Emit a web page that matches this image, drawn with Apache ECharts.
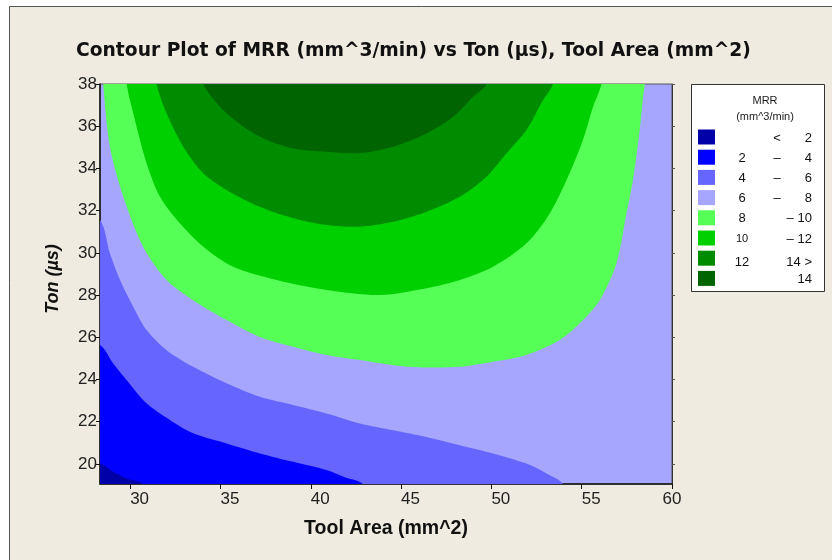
<!DOCTYPE html>
<html>
<head>
<meta charset="utf-8">
<script src="https://cdn.jsdelivr.net/npm/echarts@6/dist/echarts.min.js"></script>
<style>html,body{margin:0;padding:0;background:#ffffff}#chart{width:832px;height:560px}</style>
</head>
<body>
<div id="chart"></div>
<script>
// ---- axes ----
const xRange = [28.33, 60];
const yRange = [19.05, 38];
const xTicks = [30, 35, 40, 45, 50, 55, 60];
const yTicks = [20, 22, 24, 26, 28, 30, 32, 34, 36, 38];

// ---- legend ----
const legendTitle = ['MRR', '(mm^3/min)'];
const bandColors = ['#0000A8', '#0000FF', '#6666FF', '#A6A6FF', '#55FF55', '#00D000', '#008C00', '#006400'];
const legendLow  = ['', '2', '4', '6', '8', '10', '12', ''];
const legendSep  = ['<', '–', '–', '–', '–', '–', '', ''];
const legendHigh = ['2', '4', '6', '8', '10', '12', '14 >', '14'];

// ---- contour lines [Tool Area, Ton] ----
const contour2 = [[28.33,20.02],[29.06,19.63],[29.81,19.31],[30.72,19.04]];
const contour4 = [[28.33,25.63],[29.06,24.76],[29.81,23.97],[30.91,22.87],[32.20,22.08],[33.49,21.45],[35.34,20.97],[37.18,20.50],[39.03,20.10],[40.87,19.71],[41.89,19.37],[42.88,19.04]];
const contour6 = [[28.33,31.55],[28.88,29.98],[29.44,28.71],[30.17,27.45],[30.91,26.34],[32.02,25.39],[33.49,24.60],[35.34,23.82],[37.18,23.18],[39.03,22.79],[40.87,22.39],[42.72,21.92],[44.56,21.60],[46.41,21.28],[48.25,20.89],[50.09,20.50],[51.94,20.02],[53.05,19.55],[53.97,19.04]];
const contour8 = [[28.51,38],[28.88,35.03],[29.62,32.66],[30.72,30.29],[32.02,28.71],[33.48,27.76],[35.34,26.82],[37.18,26.02],[39.03,25.55],[40.87,25.16],[42.72,24.92],[44.56,24.68],[46.41,24.57],[48.25,24.60],[50.09,24.84],[51.94,25.16],[53.79,25.87],[54.89,26.66],[56.00,27.76],[56.92,29.50],[57.48,31.87],[57.84,33.45],[58.21,35.82],[58.40,37.40],[58.49,38]];
const contour10 = [[29.81,38],[30.17,36.61],[30.91,34.24],[31.65,32.66],[32.76,31.40],[34.05,30.29],[35.71,29.34],[38.11,28.71],[40.87,28.24],[43.82,28.00],[46.41,28.32],[48.25,28.71],[50.09,29.34],[51.94,30.45],[53.23,31.87],[54.16,33.45],[55.07,35.35],[55.63,36.92],[56.09,38]];
const contour12 = [[31.47,38],[32.02,36.61],[32.94,35.03],[34.05,33.77],[35.34,32.98],[37.18,32.18],[39.03,31.64],[40.87,31.32],[42.72,31.24],[44.56,31.47],[46.41,31.95],[48.25,32.66],[49.73,33.61],[50.84,34.72],[51.94,35.82],[52.86,37.24],[53.41,38]];
const contour14 = [[34.05,38],[35.34,36.61],[37.18,35.50],[39.03,34.95],[40.87,34.79],[42.72,34.73],[44.56,35.03],[46.41,35.66],[47.88,36.45],[48.99,37.40],[49.73,38]];

// regions: 'low' = below the line (towards bottom-left), 'high' = above the line (towards top)
const bands = [
  { line: contour6,  side: 'low',  color: bandColors[2] },
  { line: contour4,  side: 'low',  color: bandColors[1] },
  { line: contour2,  side: 'low',  color: bandColors[0] },
  { line: contour8,  side: 'high', color: bandColors[4] },
  { line: contour10, side: 'high', color: bandColors[5] },
  { line: contour12, side: 'high', color: bandColors[6] },
  { line: contour14, side: 'high', color: bandColors[7] }
];

function closeRegion(b) {
  const pts = b.line.slice();
  const first = pts[0], last = pts[pts.length - 1];
  if (b.side === 'low') {
    pts.push([last[0], yRange[0] - 1], [xRange[0] - 1, yRange[0] - 1], [xRange[0] - 1, first[1]]);
  } else {
    pts.push([last[0], yRange[1] + 1], [first[0], yRange[1] + 1]);
  }
  return pts;
}

const FONT = '"Liberation Sans", Arial, sans-serif';
const TITLE_FONT = '"DejaVu Sans", Verdana, sans-serif';

// ---- legend graphics ----
const legendX = 691, legendY = 84, legendW = 133, legendH = 207;
const rowTop = 129.5, rowPitch = 20.2;
const legendGraphics = [
  { type: 'rect', shape: { x: legendX + 0.5, y: legendY + 0.5, width: legendW, height: legendH },
    style: { fill: '#ffffff', stroke: '#333333', lineWidth: 1 } },
  { type: 'text', x: 765, y: 101, style: { text: legendTitle[0], font: '11px ' + FONT, fill: '#222', align: 'center', verticalAlign: 'middle' } },
  { type: 'text', x: 765, y: 117, style: { text: legendTitle[1], font: '11px ' + FONT, fill: '#222', align: 'center', verticalAlign: 'middle' } }
];
bandColors.forEach((c, i) => {
  const top = rowTop + i * rowPitch;
  const cy = top + 7.5;
  legendGraphics.push({ type: 'rect', shape: { x: 698, y: top, width: 17, height: 15 }, style: { fill: c } });
  const wide = i >= 4 && i <= 5;
  const ty = i === 6 ? cy + 4 : cy + 1;
  if (legendLow[i]) legendGraphics.push({ type: 'text', x: 742, y: ty,
    style: { text: legendLow[i], font: (legendLow[i] === '10' ? '11px ' : '13px ') + FONT, fill: '#111', align: 'center', verticalAlign: 'middle' } });
  if (legendSep[i]) legendGraphics.push({ type: 'text', x: wide ? 790 : 777, y: ty,
    style: { text: legendSep[i], font: '13px ' + FONT, fill: '#111', align: 'center', verticalAlign: 'middle' } });
  legendGraphics.push({ type: 'text', x: 812, y: ty,
    style: { text: legendHigh[i], font: '13px ' + FONT, fill: '#111', align: 'right', verticalAlign: 'middle' } });
});

const chart = echarts.init(document.getElementById('chart'), null, { renderer: 'canvas' });
chart.setOption({
  backgroundColor: '#ffffff',
  animation: false,
  title: {
    text: 'Contour Plot of MRR (mm^3/min) vs Ton (µs), Tool Area (mm^2)',
    left: 71, top: 37,
    textStyle: { fontFamily: TITLE_FONT, fontWeight: 'bold', fontSize: 18.7, color: '#111' }
  },
  grid: {
    left: 100, right: 160, top: 84, bottom: 76,
    show: true, backgroundColor: bandColors[3], borderColor: '#555', borderWidth: 1,
    outerBoundsMode: 'none'
  },
  xAxis: {
    type: 'value', min: xRange[0], max: xRange[1],
    name: 'Tool Area (mm^2)', nameLocation: 'middle', nameGap: 35,
    nameTextStyle: { fontFamily: FONT, fontWeight: 'bold', fontSize: 19.5, color: '#111' },
    axisLine: { show: true, lineStyle: { color: '#111', width: 1.5 } },
    axisTick: { show: true, length: 5, customValues: xTicks, lineStyle: { color: '#111' } },
    axisLabel: { customValues: xTicks, align: 'left', alignMaxLabel: 'center', margin: 7,
      fontFamily: FONT, fontSize: 17, color: '#222' },
    splitLine: { show: false }
  },
  yAxis: [{
    type: 'value', min: yRange[0], max: yRange[1],
    name: 'Ton (µs)', nameLocation: 'middle', nameGap: 38,
    nameTextStyle: { fontFamily: FONT, fontWeight: 'bold', fontStyle: 'italic', fontSize: 18, color: '#111',
      padding: [0, 0, 0, 10] },
    axisLine: { show: true, lineStyle: { color: '#111', width: 1.5 } },
    axisTick: { show: true, length: 4, customValues: yTicks, lineStyle: { color: '#111' } },
    axisLabel: { customValues: yTicks, margin: 3, fontFamily: FONT, fontSize: 17, color: '#222' },
    splitLine: { show: false }
  }, {
    type: 'value', min: yRange[0], max: yRange[1], position: 'right',
    axisLine: { show: true, lineStyle: { color: '#333', width: 1 } },
    axisTick: { show: true, length: 3, customValues: yTicks, lineStyle: { color: '#555' } },
    axisLabel: { show: false },
    splitLine: { show: false }
  }],
  graphic: [
    { type: 'rect', silent: true, z: -10, shape: { x: 9.5, y: 6.5, width: 900, height: 700 },
      style: { fill: '#EFEBE1', stroke: '#555555', lineWidth: 1 } }
  ].concat(legendGraphics),
  series: [{
    type: 'custom',
    coordinateSystem: 'cartesian2d',
    clip: true,
    silent: true,
    data: bands.map((b, i) => i),
    renderItem: function (params, api) {
      const b = bands[params.dataIndex];
      const pts = closeRegion(b).map(p => api.coord(p));
      return { type: 'polygon', shape: { points: pts, smooth: 0.3 }, style: { fill: b.color, stroke: null } };
    }
  }]
});
</script>
</body>
</html>
